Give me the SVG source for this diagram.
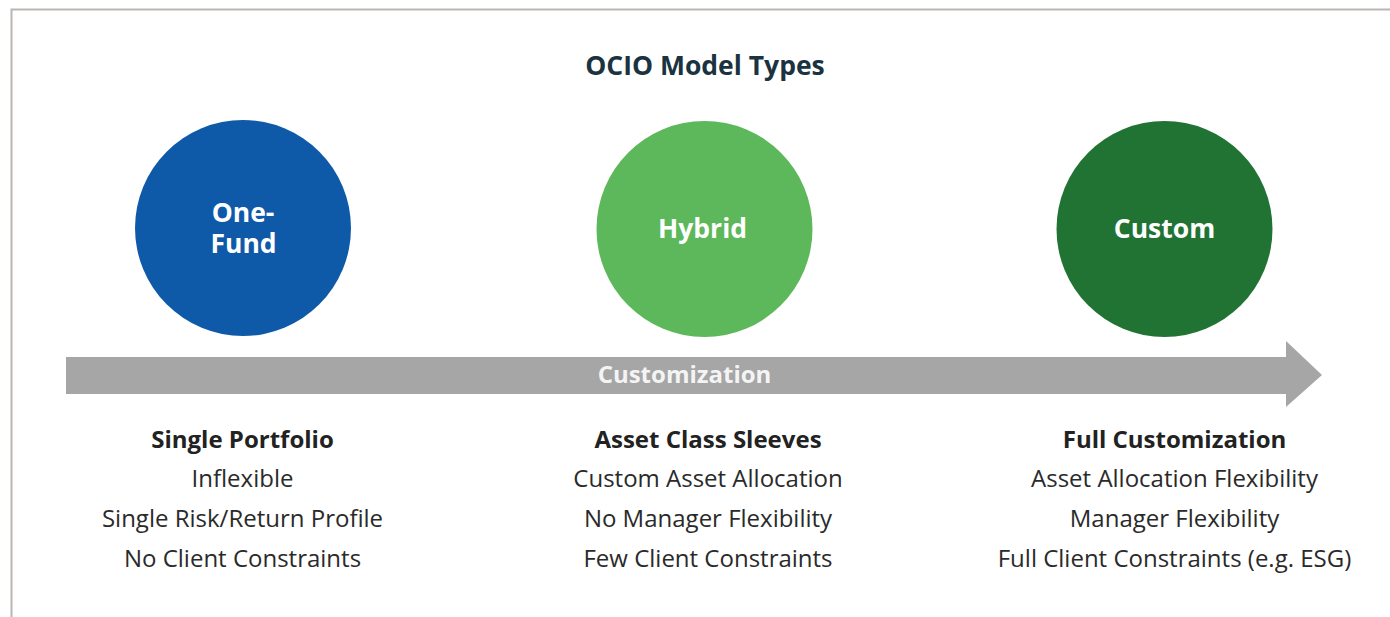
<svg xmlns="http://www.w3.org/2000/svg" width="1390" height="617" viewBox="0 0 1390 617">
  <style>
    .title { font-family: "Open Sans", "Liberation Sans", sans-serif; font-weight: 700; font-size: 26.5px; fill: #1b3340; }
    .node-label { font-family: "Open Sans", "Liberation Sans", sans-serif; font-weight: 700; font-size: 26.5px; fill: #ffffff; }
    .axis-label { font-family: "Open Sans", "Liberation Sans", sans-serif; font-weight: 700; font-size: 24px; fill: #f4f4f4; }
    .head { font-family: "Open Sans", "Liberation Sans", sans-serif; font-weight: 700; font-size: 24px; fill: #222222; }
    .item { font-family: "Open Sans", "Liberation Sans", sans-serif; font-weight: 400; font-size: 24px; fill: #2a2a2a; }
  </style>

  <!-- page background and frame -->
  <rect x="0" y="0" width="1390" height="617" fill="#ffffff"/>
  <path d="M11.5 620 V9.5 H1395" fill="none" stroke="#bbb5b1" stroke-width="2"/>

  <text class="title" x="705" y="74.5" text-anchor="middle">OCIO Model Types</text>

  <!-- customization axis -->
  <g id="connectors">
    <path d="M66 357 H1286 V341 L1322 375 L1286 407 V394 H66 Z" fill="#a6a6a6"/>
    <text class="axis-label" x="684.5" y="383" text-anchor="middle">Customization</text>
  </g>

  <g id="node-one-fund">
    <circle cx="243" cy="228" r="108" fill="#0f5aa8"/>
    <text class="node-label" text-anchor="middle"><tspan x="243" y="222">One-</tspan><tspan x="243.5" y="253">Fund</tspan></text>
  </g>

  <g id="node-hybrid">
    <circle cx="704.5" cy="229" r="108" fill="#5cb85a"/>
    <text class="node-label" x="702.5" y="238" text-anchor="middle">Hybrid</text>
  </g>

  <g id="node-custom">
    <circle cx="1164.5" cy="229" r="108" fill="#217334"/>
    <text class="node-label" x="1164.5" y="238" text-anchor="middle">Custom</text>
  </g>

  <g id="desc-one-fund" text-anchor="middle">
    <text class="head" x="242.5" y="448">Single Portfolio</text>
    <text class="item" x="242.5" y="487">Inflexible</text>
    <text class="item" x="242.5" y="527">Single Risk/Return Profile</text>
    <text class="item" x="242.5" y="567">No Client Constraints</text>
  </g>

  <g id="desc-hybrid" text-anchor="middle">
    <text class="head" x="708" y="448">Asset Class Sleeves</text>
    <text class="item" x="708" y="487">Custom Asset Allocation</text>
    <text class="item" x="708" y="527">No Manager Flexibility</text>
    <text class="item" x="708" y="567">Few Client Constraints</text>
  </g>

  <g id="desc-custom" text-anchor="middle">
    <text class="head" x="1174.5" y="448">Full Customization</text>
    <text class="item" x="1174.5" y="487">Asset Allocation Flexibility</text>
    <text class="item" x="1174.5" y="527">Manager Flexibility</text>
    <text class="item" x="1174.5" y="567">Full Client Constraints (e.g. ESG)</text>
  </g>
</svg>
